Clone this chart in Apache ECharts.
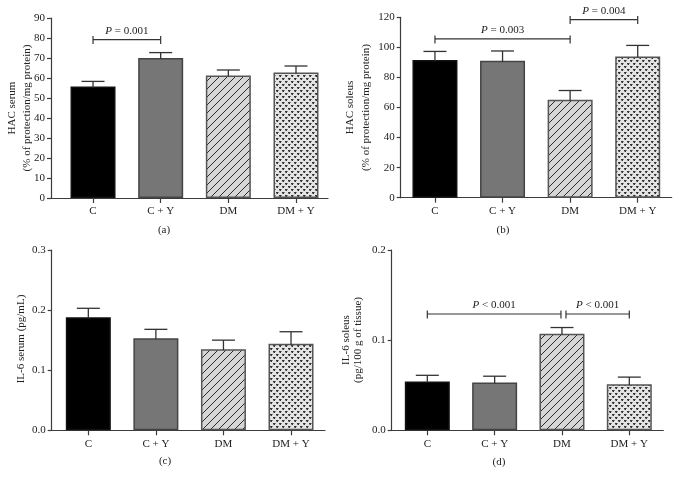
<!DOCTYPE html>
<html>
<head>
<meta charset="utf-8">
<script src="https://cdn.jsdelivr.net/npm/echarts@6/dist/echarts.min.js"></script>
<style>
html,body{margin:0;padding:0;background:#fff;}
#c{width:679px;height:485px;}
</style>
</head>
<body>
<div id="c"></div>
<script>
// ---------------- DATA ----------------
const categories = ['C', 'C + Y', 'DM', 'DM + Y'];

const hacSerumMean = [55.7, 70.0, 61.2, 62.7];
const hacSerumErr  = [2.6, 2.7, 2.8, 3.3];

const hacSoleusMean = [91.6, 91.1, 65.1, 94.0];
const hacSoleusErr  = [5.7, 6.5, 6.2, 7.3];

const il6SerumMean = [0.188, 0.153, 0.135, 0.144];
const il6SerumErr  = [0.015, 0.015, 0.015, 0.020];

const il6SoleusMean = [0.054, 0.053, 0.107, 0.051];
const il6SoleusErr  = [0.007, 0.007, 0.007, 0.008];

// brackets: [fromIndex, toIndex, yValue, label]
const bracketsA = [[0, 1, 79.2, '= 0.001']];
const bracketsB = [[0, 2, 105.6, '= 0.003'], [2, 3, 118.5, '= 0.004']];
const bracketsC = [];
const bracketsD = [[0, 2, 0.129, '< 0.001'], [2, 3, 0.129, '< 0.001']];

const yTicksA = [0, 90, 10];
const yTicksB = [0, 120, 20];
const yTicksC = [0, 0.3, 0.1];
const yTicksD = [0, 0.2, 0.1];

const panelLabels = ['(a)', '(b)', '(c)', '(d)'];
const yNames = [
  'HAC serum\n(% of protection/mg protein)',
  'HAC soleus\n(% of protection/mg protein)',
  'IL-6 serum (pg/mL)',
  'IL-6 soleus\n(pg/100 g of tissue)'
];

// ---------------- STYLE ----------------
const FONT = '"Liberation Serif", "DejaVu Serif", serif';
const AXIS_COLOR = '#3c3c3c';
const TEXT_COLOR = '#222';

function makeHatch() {
  const c = document.createElement('canvas');
  c.width = 8; c.height = 8;
  const g = c.getContext('2d');
  g.fillStyle = '#d6d6d6';
  g.fillRect(0, 0, 8, 8);
  g.strokeStyle = '#2a2a2a';
  g.lineWidth = 1;
  g.beginPath();
  g.moveTo(-1, 9); g.lineTo(9, -1);
  g.moveTo(-2, 2); g.lineTo(2, -2);
  g.moveTo(6, 10); g.lineTo(10, 6);
  g.stroke();
  return c;
}
function makeDots() {
  const c = document.createElement('canvas');
  c.width = 6; c.height = 6;
  const g = c.getContext('2d');
  g.fillStyle = '#e4e4e4';
  g.fillRect(0, 0, 6, 6);
  g.fillStyle = '#333';
  g.fillRect(0, 0, 2, 1); g.fillRect(1, 1, 1, 1);
  g.fillRect(3, 3, 2, 1); g.fillRect(4, 4, 1, 1);
  g.fillStyle = '#888';
  g.fillRect(2, 0, 1, 1); g.fillRect(5, 3, 1, 1);
  g.fillRect(0, 1, 1, 1); g.fillRect(3, 4, 1, 1);
  return c;
}
const hatch = makeHatch();
const dots = makeDots();
const barStyles = [
  { color: '#000000', borderColor: '#111', borderWidth: 1.5 },
  { color: '#767676', borderColor: '#444', borderWidth: 1.5 },
  { color: { image: hatch, repeat: 'repeat' }, borderColor: '#555', borderWidth: 1.5 },
  { color: { image: dots, repeat: 'repeat' }, borderColor: '#555', borderWidth: 1.5 }
];

// grid geometry per panel (pixels) & x ranges; name = y-title centre, label = panel letter centre
const panels = [
  { grid: { left: 51, top: 18, width: 277, height: 180 }, xMin: 0.379, xMax: 4.473, y: yTicksA, mean: hacSerumMean, err: hacSerumErr, br: bracketsA, name: [19.5, 108], lh: 15, dec: 0, label: [164, 230] },
  { grid: { left: 400.7, top: 17.3, width: 271, height: 180.4 }, xMin: 0.493, xMax: 4.503, y: yTicksB, mean: hacSoleusMean, err: hacSoleusErr, br: bracketsB, name: [358, 107.5], lh: 16, dec: 0, label: [503, 230] },
  { grid: { left: 51.7, top: 250, width: 273.3, height: 180.3 }, xMin: 0.458, xMax: 4.503, y: yTicksC, mean: il6SerumMean, err: il6SerumErr, br: bracketsC, name: [21, 339], lh: 14, dec: 1, label: [165, 461] },
  { grid: { left: 391.7, top: 250, width: 271.6, height: 180.3 }, xMin: 0.471, xMax: 4.505, y: yTicksD, mean: il6SoleusMean, err: il6SoleusErr, br: bracketsD, name: [352, 340], lh: 12, dec: 1, label: [499, 462] }
];

const grids = [], xAxes = [], yAxes = [], series = [], graphics = [];
const catVals = categories.map((_, i) => i + 1);

panels.forEach((p, k) => {
  grids.push(p.grid);
  xAxes.push({
    type: 'value', gridIndex: k, min: p.xMin, max: p.xMax,
    splitLine: { show: false },
    axisLine: { show: true, onZero: false, lineStyle: { color: AXIS_COLOR, width: 1.2 } },
    axisTick: { show: true, customValues: catVals, length: 5, lineStyle: { color: AXIS_COLOR, width: 1.2 } },
    axisLabel: { customValues: catVals, formatter: v => categories[Math.round(v) - 1] || '', fontFamily: FONT, fontSize: 11, color: TEXT_COLOR, margin: 8 }
  });
  yAxes.push({
    type: 'value', gridIndex: k, min: p.y[0], max: p.y[1], interval: p.y[2],
    splitLine: { show: false },
    axisLine: { show: true, lineStyle: { color: AXIS_COLOR, width: 1.2 } },
    axisTick: { show: true, length: 4, lineStyle: { color: AXIS_COLOR, width: 1.2 } },
    axisLabel: { formatter: v => v.toFixed(p.dec), fontFamily: FONT, fontSize: 11, color: TEXT_COLOR, margin: 6 }
  });
  series.push({
    type: 'bar', xAxisIndex: k, yAxisIndex: k, barWidth: 45,
    data: p.mean.map((m, i) => ({ value: [i + 1, m], itemStyle: barStyles[i] })),
    z: 2
  });
  series.push({
    type: 'custom', xAxisIndex: k, yAxisIndex: k, z: 3,
    dimensions: ['x', 'm', 'e'], encode: { x: 0, y: [1, 2] },
    data: p.mean.map((m, i) => [i + 1, m, p.err[i]]),
    renderItem: (params, api) => {
      const x = api.value(0), m = api.value(1), e = api.value(2);
      const base = api.coord([x, m]);
      const top = api.coord([x, m + e]);
      const st = { stroke: '#333', lineWidth: 1.3 };
      return { type: 'group', children: [
        { type: 'line', shape: { x1: base[0], y1: base[1] + 1, x2: top[0], y2: top[1] }, style: st },
        { type: 'line', shape: { x1: top[0] - 11.5, y1: top[1], x2: top[0] + 11.5, y2: top[1] }, style: st }
      ] };
    }
  });
  if (p.br.length) {
    series.push({
      type: 'custom', xAxisIndex: k, yAxisIndex: k, z: 4, clip: false,
      dimensions: ['a', 'b', 'y'], encode: { x: [0, 1], y: 2 },
      data: p.br.map(b => [b[0] + 1, b[1] + 1, b[2], b[3]]),
      renderItem: (params, api) => {
        const a = api.coord([api.value(0), api.value(2)]);
        const b = api.coord([api.value(1), api.value(2)]);
        // in (d) the two brackets meeting at DM are separated by a small gap
        let x1 = a[0], x2 = b[0];
        if (k === 3) { if (params.dataIndex === 0) x2 -= 1; else x1 += 4; }
        const y = a[1];
        const st = { stroke: '#333', lineWidth: 1.2 };
        const txt = p.br[params.dataIndex][3];
        return { type: 'group', children: [
          { type: 'line', shape: { x1: x1, y1: y, x2: x2, y2: y }, style: st },
          { type: 'line', shape: { x1: x1, y1: y - 3.5, x2: x1, y2: y + 4.5 }, style: st },
          { type: 'line', shape: { x1: x2, y1: y - 3.5, x2: x2, y2: y + 4.5 }, style: st },
          { type: 'text', style: {
              x: (x1 + x2) / 2, y: y - 3, align: 'center', verticalAlign: 'bottom',
              text: '{i|P} ' + txt, fill: TEXT_COLOR, fontFamily: FONT, fontSize: 11,
              rich: { i: { fontStyle: 'italic', fontFamily: FONT, fontSize: 11, fill: TEXT_COLOR } }
          } }
        ] };
      }
    });
  }
  graphics.push({
    type: 'text', x: p.name[0], y: p.name[1], rotation: Math.PI / 2,
    style: { text: yNames[k], align: 'center', verticalAlign: 'middle', lineHeight: p.lh, fontFamily: FONT, fontSize: 11, fill: TEXT_COLOR }
  });
  graphics.push({
    type: 'text', x: p.label[0], y: p.label[1],
    style: { text: panelLabels[k], align: 'center', verticalAlign: 'middle', fontFamily: FONT, fontSize: 11, fill: TEXT_COLOR }
  });
});

const chart = echarts.init(document.getElementById('c'), null, { renderer: 'canvas' });
chart.setOption({
  animation: false,
  backgroundColor: '#fff',
  grid: grids, xAxis: xAxes, yAxis: yAxes, series: series, graphic: graphics
});
</script>
</body>
</html>
